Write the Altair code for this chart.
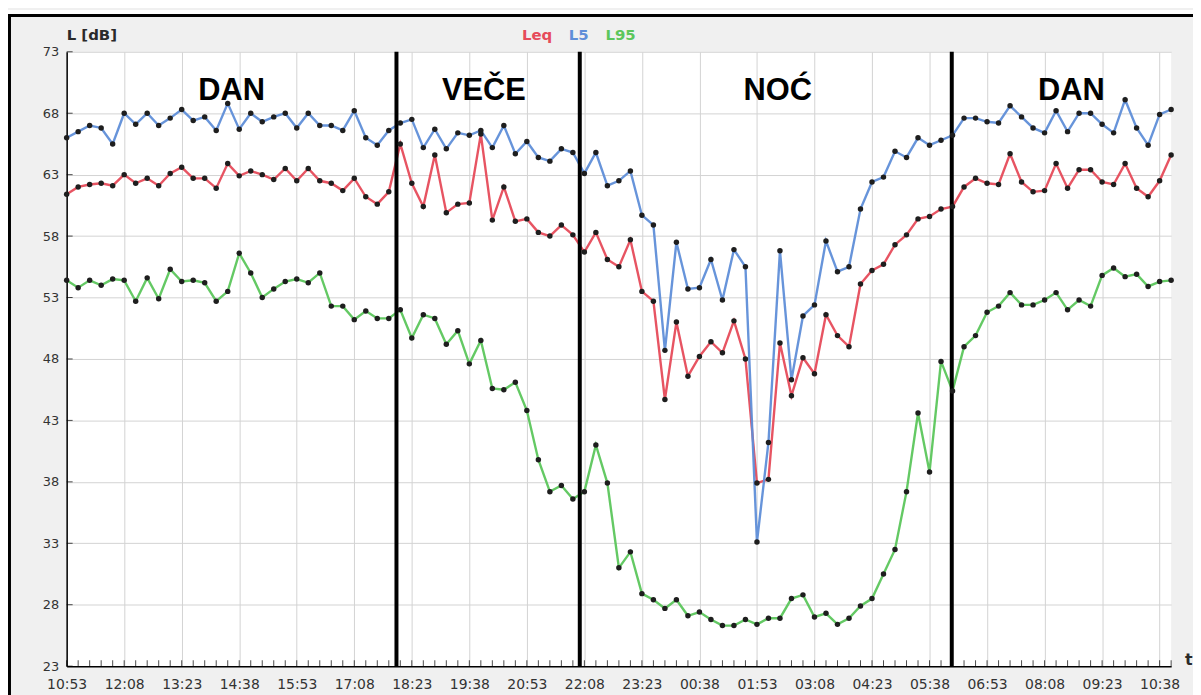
import altair as alt
import pandas as pd

# ---------------- data ----------------
l5 = [66.0, 66.5, 67.0, 66.8, 65.5, 68.0, 67.1, 68.0, 67.0, 67.6,
      68.3, 67.4, 67.7, 66.6, 68.8, 66.7, 68.0, 67.3, 67.7, 68.0,
      66.8, 68.0, 67.0, 67.0, 66.6, 68.2, 66.0, 65.4, 66.6, 67.2,
      67.5, 65.2, 66.7, 65.1, 66.4, 66.2, 66.6, 65.2, 67.0, 64.7,
      65.7, 64.4, 64.1, 65.1, 64.8, 63.1, 64.8, 62.1, 62.5, 63.3,
      59.7, 58.9, 48.7, 57.5, 53.7, 53.8, 56.1, 52.8, 56.9, 55.5,
      33.1, 41.2, 56.8, 46.3, 51.5, 52.4, 57.6, 55.1, 55.5, 60.2,
      62.4, 62.8, 64.9, 64.4, 66.0, 65.4, 65.8, 66.2, 67.6, 67.6,
      67.3, 67.2, 68.6, 67.7, 66.8, 66.4, 68.2, 66.5, 68.0, 68.0,
      67.1, 66.4, 69.1, 66.8, 65.4, 67.9, 68.3]

leq = [61.4, 62.0, 62.2, 62.3, 62.1, 63.0, 62.3, 62.7, 62.1, 63.1,
       63.6, 62.7, 62.7, 61.9, 63.9, 62.9, 63.3, 63.0, 62.6, 63.5,
       62.5, 63.5, 62.5, 62.3, 61.7, 62.7, 61.2, 60.6, 61.6, 65.5,
       62.3, 60.4, 64.6, 59.9, 60.6, 60.7, 66.3, 59.3, 62.0, 59.2,
       59.4, 58.3, 58.0, 58.9, 58.1, 56.7, 58.3, 56.1, 55.5, 57.7,
       53.5, 52.7, 44.7, 51.0, 46.6, 48.2, 49.4, 48.5, 51.1, 48.0,
       37.9, 38.2, 49.3, 45.0, 48.1, 46.8, 51.6, 49.9, 49.0, 54.1,
       55.2, 55.7, 57.3, 58.1, 59.4, 59.6, 60.2, 60.4, 62.0, 62.7,
       62.3, 62.2, 64.7, 62.4, 61.6, 61.7, 63.9, 61.9, 63.4, 63.4,
       62.4, 62.2, 63.9, 61.9, 61.2, 62.5, 64.6]

l95 = [54.4, 53.8, 54.4, 54.0, 54.5, 54.4, 52.7, 54.6, 52.9, 55.3,
       54.3, 54.4, 54.2, 52.7, 53.5, 56.6, 55.0, 53.0, 53.7, 54.3,
       54.5, 54.2, 55.0, 52.3, 52.3, 51.2, 51.9, 51.3, 51.3, 52.0,
       49.7, 51.6, 51.3, 49.2, 50.3, 47.6, 49.5, 45.6, 45.5, 46.1,
       43.8, 39.8, 37.2, 37.7, 36.6, 37.2, 41.0, 37.9, 31.0, 32.3,
       28.9, 28.4, 27.7, 28.4, 27.1, 27.4, 26.8, 26.3, 26.3, 26.8,
       26.4, 26.9, 26.9, 28.5, 28.8, 27.0, 27.3, 26.4, 26.9, 27.9,
       28.5, 30.5, 32.5, 37.2, 43.6, 38.8, 47.8, 45.4, 49.0, 49.9,
       51.8, 52.3, 53.4, 52.4, 52.4, 52.8, 53.4, 52.0, 52.8, 52.3,
       54.8, 55.4, 54.7, 54.9, 53.9, 54.3, 54.4]

step_min = 15                      # one sample every 15 minutes from 10:53
minutes = [i * step_min for i in range(len(leq))]

x_tick_labels = ["10:53", "12:08", "13:23", "14:38", "15:53", "17:08", "18:23",
                 "19:38", "20:53", "22:08", "23:23", "00:38", "01:53", "03:08",
                 "04:23", "05:38", "06:53", "08:08", "09:23", "10:38"]
label_step = 75
x_tick_values = [i * label_step for i in range(len(x_tick_labels))]
y_ticks = [23, 28, 33, 38, 43, 48, 53, 58, 63, 68, 73]

series_names = ["Leq", "L5", "L95"]
series_colors = ["#e64b5a", "#5f8ed8", "#5cc65c"]

period_names = ["DAN", "VEČE", "NOĆ", "DAN"]
period_label_min = [215, 544, 927, 1310]     # label centres, minutes after 10:53
period_bounds_min = [430, 669, 1154]         # about 18:00, 22:00, 06:00

# ---------------- build ----------------
W, H = 1111, 618
rows = []
for name, vals in zip(series_names, [leq, l5, l95]):
    for m, v in zip(minutes, vals):
        rows.append({"t": m, "L": v, "series": name})
df = pd.DataFrame(rows)

xscale = alt.Scale(domain=[0, 1440], nice=False, zero=False)
yscale = alt.Scale(domain=[y_ticks[0], y_ticks[-1]], nice=False, zero=False)

label_expr = "[" + ",".join("'%s'" % s for s in x_tick_labels) + "][round(datum.value/%d)]" % label_step

axis_common = dict(title=None, ticks=False, domainColor="#000000", domainWidth=1.5,
                   grid=True, gridColor="#d3d3d3", gridWidth=1, labelFlush=False,
                   labelFont="DejaVu Sans", labelColor="#333333")

x_axis = alt.Axis(values=x_tick_values, labelExpr=label_expr, labelPadding=11,
                  labelFontSize=14, **axis_common)
y_axis = alt.Axis(values=y_ticks, labelPadding=8, labelFontSize=13, **axis_common)


def xs():
    return alt.X("t:Q", scale=xscale, axis=x_axis)


def ys():
    return alt.Y("L:Q", scale=yscale, axis=y_axis)


color = alt.Color("series:N", scale=alt.Scale(domain=series_names, range=series_colors),
                  legend=None)

lines = alt.Chart(df).mark_line(strokeWidth=2.4, opacity=0.95).encode(
    x=xs(), y=ys(), color=color, order="t:Q")

points = alt.Chart(df).mark_circle(size=30, color="#1e1e1e", opacity=1).encode(x=xs(), y=ys())

bounds = alt.Chart(pd.DataFrame({"t": period_bounds_min})).mark_rule(
    color="#000000", strokeWidth=4).encode(x=xs())

# inward ticks
xtick_df = pd.DataFrame({"t": minutes, "L": [y_ticks[0]] * len(minutes)})
xticks = alt.Chart(xtick_df).mark_tick(orient="vertical", size=6, thickness=1,
                                       color="#000000", yOffset=-3).encode(x=xs(), y=ys())
ytick_df = pd.DataFrame({"t": [0] * len(y_ticks), "L": y_ticks})
yticks = alt.Chart(ytick_df).mark_tick(orient="horizontal", size=6, thickness=1,
                                       color="#000000", xOffset=3).encode(x=xs(), y=ys())

period_df = pd.DataFrame({"t": period_label_min, "name": period_names})
periods = alt.Chart(period_df).mark_text(
    font="Liberation Sans", fontSize=31, fontWeight="bold", color="#000000",
    baseline="middle", align="center").encode(x=xs(), y=alt.value(40), text="name:N")

ytitle = alt.Chart(pd.DataFrame({"a": [0]})).mark_text(
    text="L [dB]", font="DejaVu Sans", fontSize=15, fontWeight="bold",
    color="#2a2a2a", align="left", baseline="middle").encode(
    x=alt.value(0), y=alt.value(-17))

xtitle = alt.Chart(pd.DataFrame({"a": [0]})).mark_text(
    text="t", font="DejaVu Sans", fontSize=16, fontWeight="bold",
    color="#2a2a2a", align="left", baseline="middle").encode(
    x=alt.value(W + 14), y=alt.value(H - 6))

legend_x = [458, 505, 542]
legend_layers = []
for name, col, lx in zip(series_names, series_colors, legend_x):
    legend_layers.append(
        alt.Chart(pd.DataFrame({"a": [0]})).mark_text(
            text=name, font="DejaVu Sans", fontSize=15, fontWeight="bold",
            color=col, align="left", baseline="middle").encode(
            x=alt.value(lx), y=alt.value(-17)))

# outer frame of the picture
frame_left = alt.Chart(pd.DataFrame({"a": [0]})).mark_rule(
    color="#000000", strokeWidth=3).encode(
    x=alt.value(-57.5), y=alt.value(-38), y2=alt.value(H + 40))
frame_top = alt.Chart(pd.DataFrame({"a": [0]})).mark_rule(
    color="#000000", strokeWidth=3).encode(
    x=alt.value(-59), x2=alt.value(W + 30), y=alt.value(-36.5))
white_top = alt.Chart(pd.DataFrame({"a": [0]})).mark_rule(
    color="#ffffff", strokeWidth=4).encode(
    x=alt.value(-59), x2=alt.value(W + 30), y=alt.value(-40))

chart = alt.layer(
    lines, bounds, points, xticks, yticks, periods, ytitle, xtitle,
    *legend_layers, white_top, frame_left, frame_top
).properties(
    width=W, height=H,
    autosize=alt.AutoSizeParams(type="none"),
    padding={"left": 59, "top": 42, "right": 22, "bottom": 27},
    background="#f0f0f0",
).configure_view(fill="#ffffff", stroke=None)

chart.save("out.html", embed_options={"renderer": "svg", "actions": False})
